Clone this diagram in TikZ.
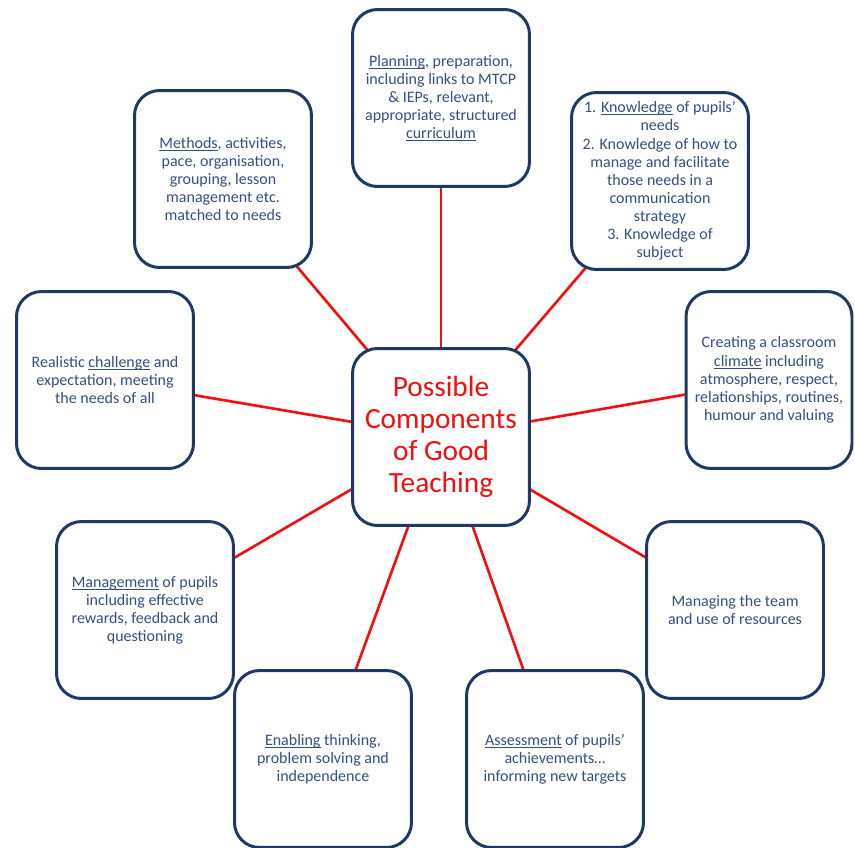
\documentclass[tikz,border=0pt]{standalone}
\usepackage{fontspec}
\setmainfont{Carlito}
\usepackage{tikz}
\usetikzlibrary{positioning,backgrounds}
\definecolor{boxblue}{HTML}{1F3864}
\definecolor{txtblue}{HTML}{34507F}
\definecolor{linkred}{HTML}{F01010}
\newcommand{\ulword}[1]{\setbox0\hbox{#1}\rlap{\rule[-1.3pt]{\wd0}{0.45pt}}\box0\relax}

\begin{document}
\begin{tikzpicture}[
x=0.02cm, y=-0.02cm,
comp/.style={draw=boxblue, line width=1.7pt, rounded corners=0.5cm, fill=white,
  minimum width=3.54cm, minimum height=3.54cm, align=center, text=txtblue,
  font=\fontsize{9.1}{10.3}\selectfont, inner sep=2pt},
hub/.style={comp, text=linkred, font=\fontsize{16.7}{18.2}\selectfont},
link/.style={draw=linkred, line width=1.5pt}]
    \useasboundingbox (0,0) rectangle (855,848);

    % Centre
    \node[hub] (core) at (441,437) {Possible\\Components\\of Good\\Teaching};

    % Components round it
    \node[comp] (plan) at (441,98) {\ulword{Planning}, preparation,\\including links to MTCP\\\& IEPs, relevant,\\appropriate, structured\\\ulword{curriculum}};
    \node[comp] (know) at (660,181) {1. \ulword{Knowledge} of pupils'\\needs\\2. Knowledge of how to\\manage and facilitate\\those needs in a\\communication\\strategy\\3. Knowledge of\\subject};
    \node[comp] (meth) at (223,179) {\ulword{Methods}, activities,\\pace, organisation,\\grouping, lesson\\management etc.\\matched to needs};
    \node[comp] (real) at (105,380) {Realistic \ulword{challenge} and\\expectation, meeting\\the needs of all};
    \node[comp, minimum width=3.32cm] (clim) at (769,380) {Creating a classroom\\\ulword{climate} including\\atmosphere, respect,\\relationships, routines,\\humour and valuing};
    \node[comp] (mgmt) at (145,610) {\ulword{Management} of pupils\\including effective\\rewards, feedback and\\questioning};
    \node[comp] (team) at (735,610) {Managing the team\\and use of resources};
    \node[comp] (enab) at (323,759) {\ulword{Enabling} thinking,\\problem solving and\\independence};
    \node[comp] (assess) at (555,759) {\ulword{Assessment} of pupils'\\achievements\ldots\\informing new targets};

    % Spokes
    \begin{scope}[on background layer]
    \foreach \n in {plan,know,meth,real,clim,mgmt,team,enab,assess}
        \draw[link] (core.center) -- (\n.center);
    \end{scope}

\end{tikzpicture}
\end{document}
